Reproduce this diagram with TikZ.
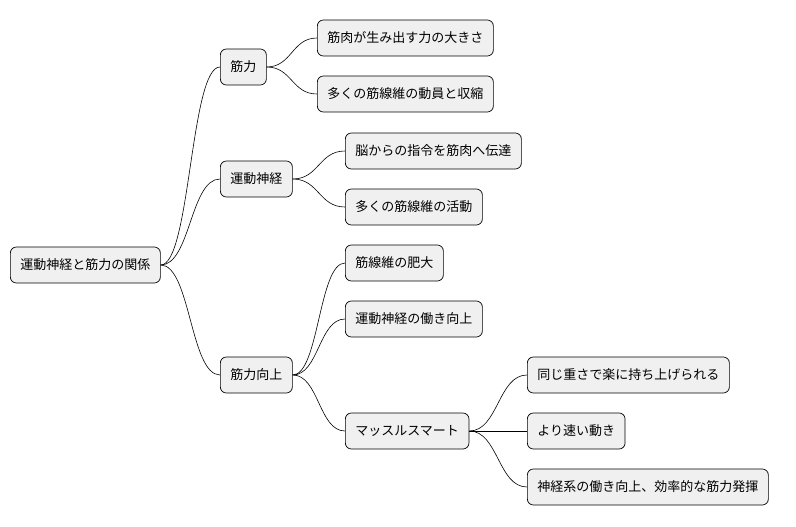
\documentclass[tikz,border=0pt]{standalone}
\usepackage{fontspec}
\usetikzlibrary{calc}
\setmainfont{Noto Sans CJK JP}
\begin{document}
\begin{tikzpicture}[x=1pt,y=-1pt,
 box/.style={draw=black,fill=black!6,rounded corners=6pt,line width=0.7pt,anchor=west,minimum height=36pt,inner xsep=10pt,inner ysep=0pt,font=\fontsize{13}{15}\selectfont},
 link/.style={draw=black,line width=0.6pt}]
\useasboundingbox (0,0) rectangle (796,527);
\node[box] (r) at (10,265) {運動神経と筋力の関係};
\node[box] (a) at (220,67) {筋力};
\node[box] (a1) at (317,38) {筋肉が生み出す力の大きさ};
\node[box] (a2) at (317,94) {多くの筋線維の動員と収縮};
\node[box] (b) at (220,179) {運動神経};
\node[box] (b1) at (345,151) {脳からの指令を筋肉へ伝達};
\node[box] (b2) at (345,207) {多くの筋線維の活動};
\node[box] (c) at (220,375) {筋力向上};
\node[box] (c1) at (345,263) {筋線維の肥大};
\node[box] (c2) at (345,319) {運動神経の働き向上};
\node[box] (c3) at (345,431) {マッスルスマート};
\node[box] (d1) at (527,375) {同じ重さで楽に持ち上げられる};
\node[box] (d2) at (527,431) {より速い動き};
\node[box] (d3) at (527,487) {神経系の働き向上、効率的な筋力発揮};
\foreach \s/\t in {r/a,r/b,r/c,a/a1,a/a2,b/b1,b/b2,c/c1,c/c2,c/c3,c3/d1,c3/d2,c3/d3}{
 \path[link] (\s.east) .. controls ($(\s.east)!0.5!(\s.east-|\t.west)$) and ($(\t.west-|\s.east)!0.5!(\t.west)$) .. (\t.west);
}
\end{tikzpicture}
\end{document}
